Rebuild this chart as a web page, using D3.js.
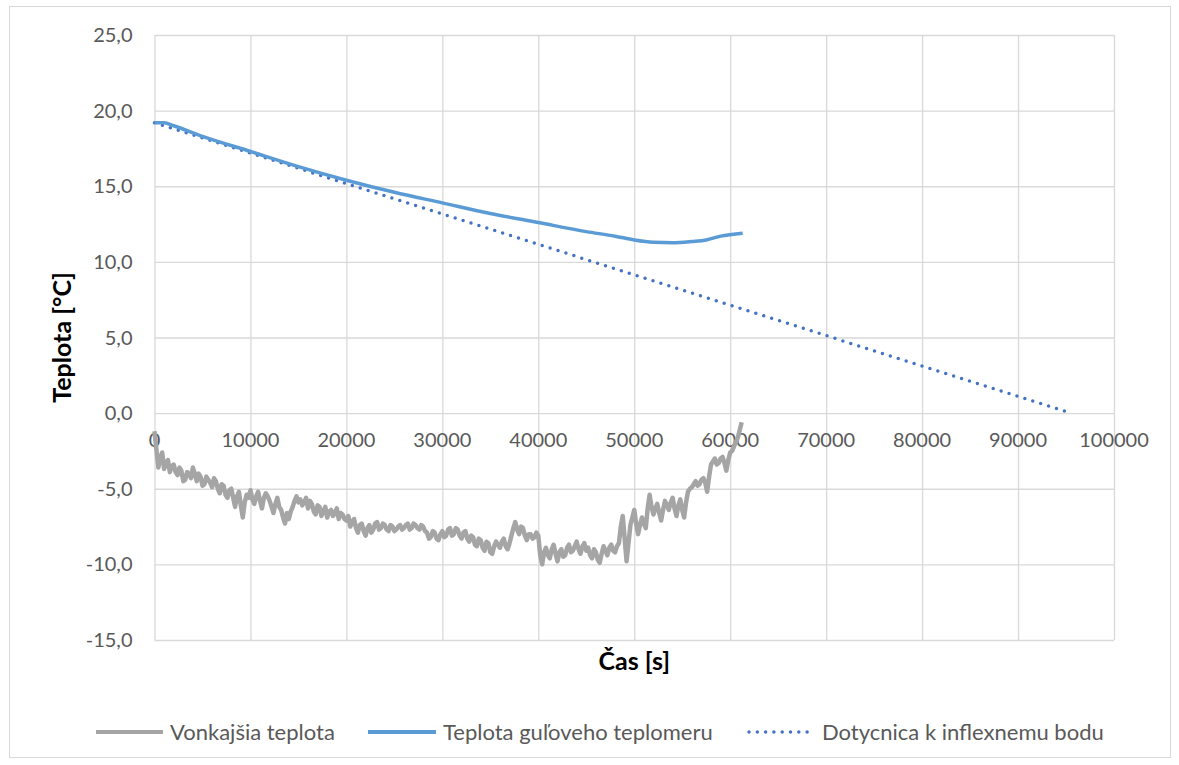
<!DOCTYPE html>
<html>
<head>
<meta charset="utf-8">
<script src="https://cdn.jsdelivr.net/npm/d3@7"></script>
<style>
  body { margin: 0; background: #fff; }
  svg { display: block; font-family: Lato, "Open Sans", sans-serif; }
  .grid line { stroke: #d9d9d9; stroke-width: 1.3; }
  .tick-label { fill: #595959; font-size: 20px; }
  .axis-title { fill: #000; font-size: 25px; font-weight: bold; }
  .legend-label { fill: #595959; font-size: 22px; }
</style>
</head>
<body>
<div id="chart"></div>
<script>
// Time axis [s] and series
const xTicks = [0, 10000, 20000, 30000, 40000, 50000, 60000, 70000, 80000, 90000, 100000];
const yTicks = [25, 20, 15, 10, 5, 0, -5, -10, -15];

// Vonkajšia teplota (outside temperature), sampled every 200 s
const outsideTime = d3.range(0, 61201, 200);
const outsideTemp = [
  -1.2, -2.4, -3.6, -3.0, -2.6, -3.7, -3.3, -3.1, -3.9, -3.5,
  -3.4, -3.9, -4.1, -3.6, -3.8, -4.5, -4.4, -3.9, -4.0, -4.3,
  -3.6, -4.0, -4.5, -4.0, -4.2, -4.8, -4.7, -4.2, -4.4, -4.6,
  -4.9, -4.3, -4.5, -5.0, -5.3, -4.7, -4.8, -5.4, -5.6, -5.1,
  -5.0, -5.6, -6.2, -5.5, -5.2, -6.1, -6.9, -5.9, -5.4, -5.6,
  -5.1, -5.7, -6.0, -5.5, -5.2, -5.8, -6.3, -5.6, -5.3, -5.5,
  -5.8, -6.2, -6.6, -6.0, -5.6, -6.2, -6.4, -6.9, -7.3, -6.6,
  -7.0, -6.5, -6.2, -5.8, -5.5, -5.9, -5.7, -6.1, -5.9, -5.6,
  -6.3, -5.8, -6.0, -6.5, -6.7, -6.1, -6.2, -6.8, -6.5, -6.2,
  -6.9, -6.5, -6.4, -6.8, -6.6, -6.3, -7.0, -6.6, -6.7, -7.0,
  -7.1, -6.8, -7.5, -7.2, -7.0, -7.6, -7.9, -7.4, -7.3, -7.8,
  -8.1, -7.6, -7.4, -7.9, -7.7, -7.3, -7.2, -7.7, -7.6, -7.3,
  -7.4, -7.7, -7.8, -7.4, -7.5, -7.8, -7.7, -7.5, -7.4, -7.7,
  -7.6, -7.4, -7.3, -7.7, -7.6, -7.3, -7.4, -7.6, -7.7, -7.4,
  -7.5, -7.8, -7.9, -8.3, -8.2, -7.8, -7.9, -8.3, -8.4, -8.0,
  -7.8, -8.2, -8.1, -7.7, -7.6, -8.1, -8.0, -7.6, -7.7, -8.1,
  -8.3, -7.9, -7.8, -8.3, -8.5, -8.1, -8.2, -8.7, -8.8, -8.3,
  -8.4, -8.9, -9.1, -8.5, -8.6, -9.2, -9.3, -8.8, -8.5, -8.7,
  -8.9, -8.5, -8.3, -8.8, -9.0, -8.6, -8.1, -7.6, -7.2, -7.7,
  -8.0, -7.5, -7.6, -8.1, -8.4, -8.0, -8.0, -8.3, -8.2, -7.9,
  -8.1, -9.4, -10.0, -9.2, -8.9, -9.4, -9.6, -9.0, -8.7, -9.3,
  -9.8, -9.2, -9.0, -9.5, -9.4, -8.9, -8.7, -9.2, -9.1, -8.8,
  -8.5, -9.0, -9.3, -8.8, -8.6, -9.1, -8.9, -9.4, -9.6, -9.0,
  -9.2, -9.7, -9.9, -9.3, -8.8, -9.1, -9.4, -8.9, -8.7, -9.1,
  -9.2, -8.8, -8.6, -7.5, -6.8, -8.3, -9.8, -8.6, -7.4, -6.9,
  -6.4, -7.3, -8.0, -7.4, -6.9, -7.3, -7.6, -6.3, -5.4, -6.2,
  -6.7, -6.3, -6.0, -6.6, -7.1, -6.4, -5.8, -6.1, -6.4, -5.9,
  -5.6, -6.3, -6.8, -6.1, -5.7, -6.4, -6.9, -5.9, -5.2, -5.0,
  -4.9, -4.7, -4.5, -4.8, -4.7, -4.4, -4.3, -4.6, -5.2, -4.2,
  -3.4, -3.2, -3.0, -3.4, -3.3, -3.0, -2.9, -3.3, -3.8, -3.1,
  -2.6, -2.5, -2.2, -1.9, -1.6, -1.1, -0.6
];

// Teplota guľoveho teplomeru (globe thermometer)
const globeTime = [0, 1000, 2000, 5000, 10000, 15000, 20000, 25000, 30000, 35000, 40000,
  45000, 48000, 50000, 52000, 54000, 56000, 57500, 59000, 61300];
const globeTemp = [19.2, 19.2, 19.0, 18.3, 17.3, 16.3, 15.4, 14.6, 13.9, 13.2, 12.6,
  12.0, 11.7, 11.45, 11.3, 11.27, 11.35, 11.45, 11.7, 11.9];

// Dotycnica k inflexnemu bodu (tangent)
const tangentTime = [0, 95500];
const tangentTemp = [19.2, 0];

const seriesNames = ["Vonkajšia teplota", "Teplota guľoveho teplomeru", "Dotycnica k inflexnemu bodu"];
const seriesColors = ["#a5a5a5", "#5b9bd5", "#4472c4"];

const width = 1179, height = 765;
const margin = { top: 35, right: 65, bottom: 125, left: 154.5 };
const innerWidth = 1114 - margin.left;
const innerHeight = 640 - margin.top;

const svg = d3.select("#chart").append("svg")
  .attr("width", width).attr("height", height);

// outer chart frame
svg.append("rect")
  .attr("x", 9.5).attr("y", 6.5).attr("width", 1161).attr("height", 751)
  .attr("fill", "none").attr("stroke", "#d9d9d9");

const plot = svg.append("g").attr("transform", `translate(${margin.left},${margin.top})`);

const x = d3.scaleLinear().domain([0, 100000]).range([0, innerWidth]);
const y = d3.scaleLinear().domain([-15, 25]).range([innerHeight, 0]);

// gridlines
plot.append("g").attr("class", "grid")
  .call(d3.axisLeft(y).tickValues(yTicks).tickSize(-innerWidth).tickFormat(""))
  .call((g) => g.select(".domain").remove());
plot.append("g").attr("class", "grid")
  .attr("transform", `translate(0,${innerHeight})`)
  .call(d3.axisBottom(x).tickValues(xTicks).tickSize(-innerHeight).tickFormat(""))
  .call((g) => g.select(".domain").remove());

// y tick labels
const fmtY = (d) => d3.format(".1f")(d).replace(".", ",").replace("−", "-");
plot.append("g").selectAll("text").data(yTicks).join("text")
  .attr("class", "tick-label")
  .attr("x", -22).attr("y", (d) => y(d)).attr("dy", "0.35em")
  .attr("text-anchor", "end")
  .text(fmtY);

// x tick labels, sitting under the zero line
plot.append("g").selectAll("text").data(xTicks).join("text")
  .attr("class", "tick-label")
  .attr("x", (d) => x(d)).attr("y", y(0) + 27).attr("dy", "0.35em")
  .attr("text-anchor", "middle")
  .text((d) => d);

// series
const outsideData = outsideTime.map((t, i) => [t, outsideTemp[i]]);
const globeData = globeTime.map((t, i) => [t, globeTemp[i]]);
const tangentData = tangentTime.map((t, i) => [t, tangentTemp[i]]);

const line = d3.line().x((d) => x(d[0])).y((d) => y(d[1]));

plot.append("path").datum(outsideData)
  .attr("fill", "none").attr("stroke", seriesColors[0])
  .attr("stroke-width", 4.5).attr("stroke-linejoin", "round")
  .attr("d", line);

plot.append("path").datum(tangentData)
  .attr("fill", "none").attr("stroke", seriesColors[2])
  .attr("stroke-width", 3.5).attr("stroke-linecap", "round")
  .attr("stroke-dasharray", "0 8.3")
  .attr("d", line);

plot.append("path").datum(globeData)
  .attr("fill", "none").attr("stroke", seriesColors[1])
  .attr("stroke-width", 3.5).attr("stroke-linejoin", "round")
  .attr("d", line.curve(d3.curveMonotoneX));

// axis titles
svg.append("text").attr("class", "axis-title")
  .attr("x", margin.left + innerWidth / 2).attr("y", 661).attr("dy", "0.35em")
  .attr("text-anchor", "middle").text("Čas [s]");
svg.append("text").attr("class", "axis-title")
  .attr("transform", `translate(62,${margin.top + innerHeight / 2}) rotate(-90)`)
  .attr("dy", "0.35em").attr("text-anchor", "middle").text("Teplota [°C]");

// legend
const legendItems = [
  { x1: 96, x2: 163, tx: 170 },
  { x1: 368, x2: 436, tx: 443 },
  { x1: 749, x2: 812, tx: 822 },
];
const legend = svg.append("g");
legendItems.forEach((item, i) => {
  const ly = 732;
  const l = legend.append("line")
    .attr("x1", item.x1).attr("x2", item.x2).attr("y1", ly).attr("y2", ly)
    .attr("stroke", seriesColors[i]);
  if (i === 2) {
    l.attr("stroke-width", 3.5).attr("stroke-linecap", "round").attr("stroke-dasharray", "0 8.3");
  } else {
    l.attr("stroke-width", 4);
  }
  legend.append("text").attr("class", "legend-label")
    .attr("x", item.tx).attr("y", ly).attr("dy", "0.35em")
    .text(seriesNames[i]);
});
</script>
</body>
</html>
